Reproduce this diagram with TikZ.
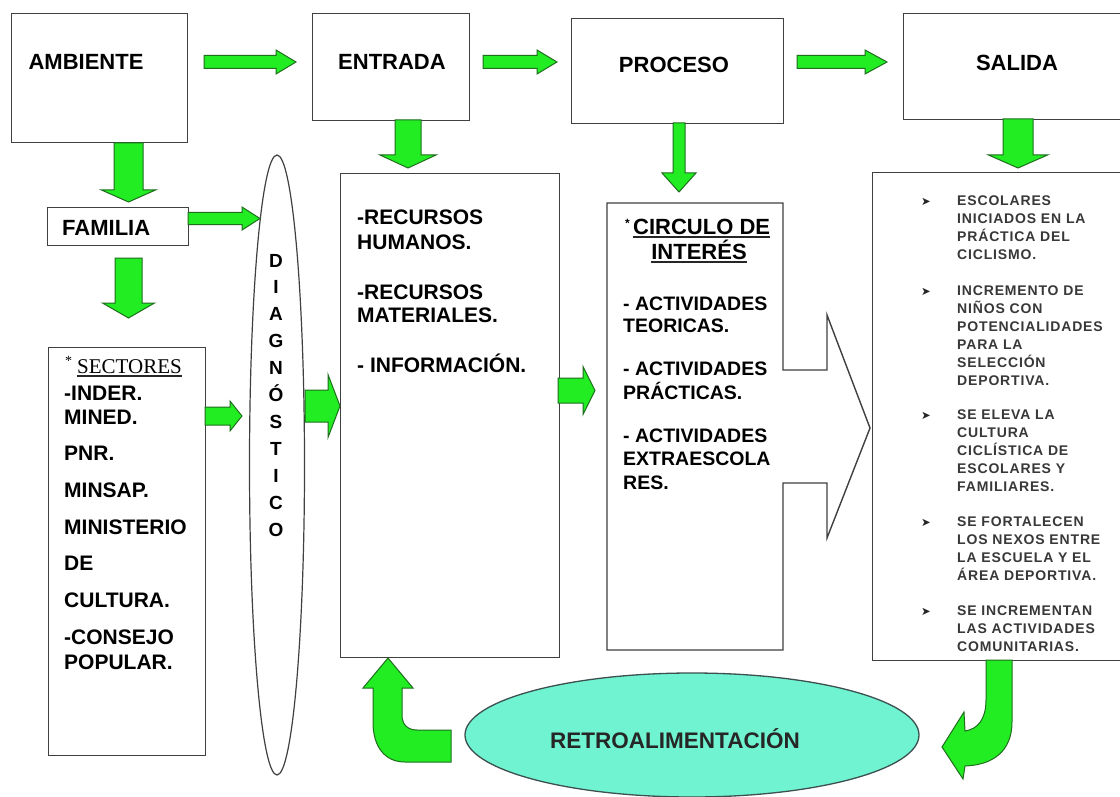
\documentclass[tikz,border=0pt]{standalone}
\usepackage{fontspec}
\setmainfont{Liberation Sans}
\newfontfamily\timesf{Liberation Serif}
\newfontfamily\djv{DejaVu Sans}
\usetikzlibrary{shapes.geometric,calc}
\definecolor{gfill}{RGB}{34,236,34}
\definecolor{gline}{RGB}{30,110,30}
\definecolor{bline}{RGB}{64,64,64}
\definecolor{efill}{RGB}{112,243,208}
\definecolor{eline}{RGB}{60,80,80}
\newcommand\grArrR[6]{% x1,x2,y,shaft half,head half,head length
\draw[garrow] ({#1},{#3-#4}) -- ({#2-#6},{#3-#4}) -- ({#2-#6},{#3-#5}) -- ({#2},{#3}) -- ({#2-#6},{#3+#5}) -- ({#2-#6},{#3+#4}) -- ({#1},{#3+#4}) -- cycle;}
\newcommand\grArrD[6]{% y1,y2,x,shaft half,head half,head length
\draw[garrow] ({#3-#4},{#1}) -- ({#3-#4},{#2-#6}) -- ({#3-#5},{#2-#6}) -- ({#3},{#2}) -- ({#3+#5},{#2-#6}) -- ({#3+#4},{#2-#6}) -- ({#3+#4},{#1}) -- cycle;}
\begin{document}
\begin{tikzpicture}[x=1pt,y=-1pt,
  box/.style={draw=bline,line width=1.4pt,fill=white,rectangle,inner sep=0pt,anchor=north west},
  garrow/.style={fill=gfill,draw=gline,line width=1pt,line join=miter},
  big/.style={font=\fontsize{22}{24}\selectfont\bfseries,inner sep=0pt},
  mid/.style={font=\fontsize{21}{24}\selectfont\bfseries,inner sep=0pt,anchor=base west},
  sml/.style={font=\fontsize{19.5}{22}\selectfont\bfseries,inner sep=0pt,anchor=base west},
  res/.style={font=\fontsize{14}{18}\selectfont\bfseries\addfontfeature{LetterSpace=6},text=black!78,inner sep=0pt,anchor=base west},
  diagl/.style={font=\fontsize{19}{20}\selectfont\bfseries,inner sep=0pt,anchor=base},
  uline/.style={line width=1.3pt,draw=black!85}
]
\useasboundingbox (0,0) rectangle (1120,797);
\fill[white] (0,0) rectangle (1120,797);

% top boxes
\node[box,minimum width=176,minimum height=129] (amb) at (11,13) {};
\node[box,minimum width=157,minimum height=107] (ent) at (312,13) {};
\node[box,minimum width=212,minimum height=105] (pro) at (571,18) {};
\node[box,minimum width=225,minimum height=106] (sal) at (903,13) {};

% lower boxes
\node[box,minimum width=141,minimum height=38] (fam) at (47,207) {};
\node[box,minimum width=157,minimum height=408] (sec) at (48,347) {};
\node[box,minimum width=219,minimum height=484] (rec) at (340,173) {};
\node[box,minimum width=255,minimum height=488] (res) at (872,172) {};

% process box with outgoing arrow outline
\draw[draw=bline,line width=1.4pt,fill=white,line join=miter]
  (607,203) -- (783,203) -- (783,370) -- (827,370) -- (827,315) -- (870,428)
  -- (827,538) -- (827,483) -- (783,483) -- (783,650) -- (607,650) -- cycle;
\coordinate (cir) at (695,426);

% diagnostico ellipse
\node[draw=bline,line width=1.2pt,fill=white,ellipse,inner sep=0pt,minimum width=55,minimum height=620] (diag) at (277,465) {};

% retroalimentacion ellipse
\node[draw=eline,line width=1.3pt,fill=efill,ellipse,inner sep=0pt,minimum width=454,minimum height=124] (retro) at (692,735) {};

% green block arrows
\grArrR{204}{296}{62}{6.5}{12}{20}
\grArrR{483}{557}{62}{6.5}{12}{20}
\grArrR{797}{887}{62}{6.5}{12}{22}
\grArrD{143}{202}{128.5}{14.5}{27}{12}
\grArrD{258}{318}{128.5}{13.5}{26}{15}
\grArrD{120}{168}{408}{13}{28}{13}
\grArrD{123}{192}{679}{6}{17}{19}
\grArrD{119}{168}{1018}{15}{29.5}{13}
\grArrR{188}{260}{218.5}{6}{11.5}{18}
\grArrR{205}{242}{416}{9}{15}{12}
\grArrR{305}{340}{406}{16}{31.5}{12}
\grArrR{558}{595}{390.5}{12.5}{24}{12}

% curved feedback arrows
\draw[garrow] (373,688) -- (363,688) -- (388,658) -- (413,688) -- (402,688) -- (402,715)
  .. controls (402,725) and (408,730) .. (417,730) -- (451,730) -- (451,762) -- (405,762)
  .. controls (385,762) and (373,747) .. (373,722) -- cycle;
\draw[garrow] (986,660) -- (1012,660) -- (1012,722)
  .. controls (1012,752) and (992,765) .. (965,766) -- (963,779) -- (942,747) -- (964,712)
  -- (965,731) .. controls (978,729) and (986,719) .. (986,700) -- cycle;

% top labels
\node[big] (tamb) at (86,62) {AMBIENTE};
\node[big] (tent) at (392,62) {ENTRADA};
\node[big] (tpro) at (674,65) {PROCESO};
\node[big] (tsal) at (1017,63) {SALIDA};
\node[big,anchor=base west] (tfam) at (62,235) {FAMILIA};

% sectores
\node[font=\timesf\fontsize{14}{14}\selectfont,inner sep=0pt,anchor=base west] (ast1) at (65,365) {*};
\node[font=\timesf\fontsize{21}{22}\selectfont,inner sep=0pt,anchor=base west] (tsec) at (77,373) {SECTORES};
\draw[uline] ([yshift=-3pt]tsec.base west) -- ([yshift=-3pt]tsec.base east);
\foreach \t/\yy [count=\i] in {-INDER./400,MINED./424,PNR./460,MINSAP./497,MINISTERIO/534,DE/570,CULTURA./607,-CONSEJO/644,POPULAR./669}
  \node[mid,name=s\i] at (64,\yy) {\t};

% diagnostico letters
\foreach \l [count=\i from 0] in {D,I,A,G,N,Ó,S,T,I,C,O}
  \node[diagl,name=d\i] at (276,{267+26.9*\i}) {\l};

% recursos
\foreach \t/\yy [count=\i] in {-RECURSOS/225,HUMANOS./249,-RECURSOS/299,MATERIALES./322,- INFORMACIÓN./372}
  \node[mid,name=r\i] at (357,\yy) {\t};

% circulo de interes
\node[font=\fontsize{12}{12}\selectfont\bfseries,inner sep=0pt,anchor=base west] (ast2) at (625,227) {*};
\node[big,anchor=base west] (tcir) at (633,234) {CIRCULO DE};
\draw[uline] ([yshift=-3pt]tcir.base west) -- ([yshift=-3pt]tcir.base east);
\node[big,anchor=base] (tint) at (699,259) {INTERÉS};
\draw[uline] ([yshift=-3pt]tint.base west) -- ([yshift=-3pt]tint.base east);
\foreach \t/\yy [count=\i] in {- ACTIVIDADES/310,TEORICAS./332,- ACTIVIDADES/375,PRÁCTICAS./399,- ACTIVIDADES/442,EXTRAESCOLA/465,RES./489}
  \node[sml,name=c\i] at (623,\yy) {\t};

% resultados
\foreach \yy [count=\i] in {205,295,419,526,615}
  \node[font=\djv\fontsize{11.5}{12}\selectfont,text=black!85,inner sep=0pt,anchor=base west,name=b\i] at (921,\yy) {➤};
\foreach \t/\yy [count=\i] in {ESCOLARES/205,INICIADOS EN LA/223,PRÁCTICA DEL/241,CICLISMO./259,
  INCREMENTO DE/295,NIÑOS CON/313,POTENCIALIDADES/331,PARA LA/349,SELECCIÓN/367,DEPORTIVA./385,
  SE ELEVA LA/419,CULTURA/437,CICLÍSTICA DE/455,ESCOLARES Y/473,FAMILIARES./491,
  SE FORTALECEN/526,LOS NEXOS ENTRE/544,LA ESCUELA Y EL/562,ÁREA DEPORTIVA./580,
  SE INCREMENTAN/615,LAS ACTIVIDADES/633,COMUNITARIAS./651}
  \node[res,name=o\i] at (957,\yy) {\t};

% retroalimentacion
\node[font=\fontsize{22.5}{24}\selectfont\bfseries,inner sep=0pt,anchor=base,text=black!85] (tretro) at (675,748) {RETROALIMENTACIÓN};
\end{tikzpicture}
\end{document}
